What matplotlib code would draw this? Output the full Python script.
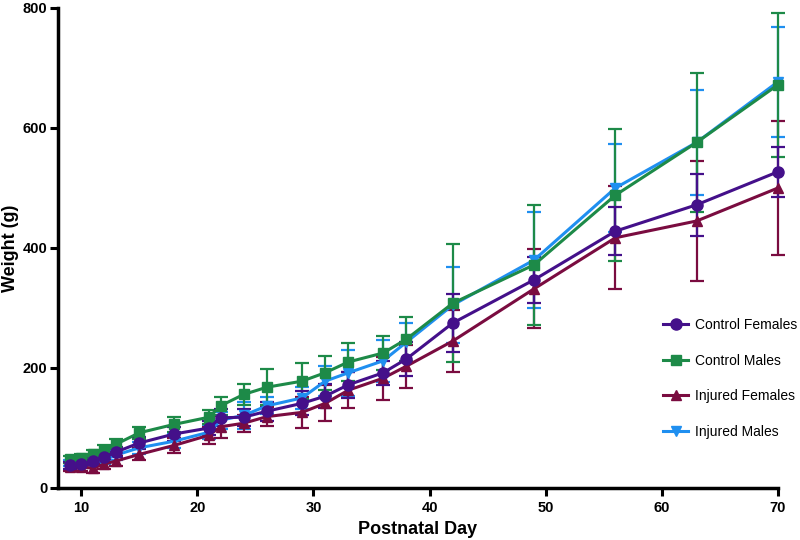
import matplotlib
matplotlib.use("Agg")
import matplotlib.pyplot as plt
from matplotlib.lines import Line2D

# data
days = [9, 10, 11, 12, 13, 15, 18, 21, 22, 24, 26, 29, 31, 33, 36, 38, 42, 49, 56, 63, 70]

ctrl_f = [38, 40, 45, 52, 60, 75, 90, 100, 117, 118, 128, 141, 153, 172, 192, 215, 275, 347, 428, 472, 527]
ctrl_m = [48, 50, 57, 63, 73, 92, 106, 118, 137, 156, 168, 178, 192, 210, 225, 248, 308, 372, 488, 576, 672]
inj_f = [35, 35, 33, 40, 45, 56, 71, 88, 102, 108, 119, 126, 141, 163, 183, 203, 245, 332, 417, 445, 500]
inj_m = [42, 43, 42, 47, 55, 67, 78, 93, 113, 121, 137, 150, 178, 192, 212, 243, 305, 380, 500, 576, 677]

ctrl_f_err = [6, 6, 7, 8, 8, 10, 12, 12, 14, 14, 16, 20, 20, 22, 20, 28, 48, 38, 40, 52, 42]
ctrl_m_err = [6, 6, 7, 8, 8, 10, 12, 12, 15, 17, 30, 30, 28, 32, 28, 37, 98, 100, 110, 116, 120]
inj_f_err = [6, 6, 8, 8, 8, 10, 12, 14, 18, 14, 16, 26, 30, 30, 36, 36, 52, 66, 86, 100, 112]
inj_m_err = [5, 5, 6, 7, 8, 10, 12, 12, 14, 23, 14, 18, 25, 38, 35, 32, 63, 80, 73, 88, 92]

x_ticks = [10, 20, 30, 40, 50, 60, 70]
y_ticks = [0, 200, 400, 600, 800]

plt.rcParams['font.family'] = ['Liberation Sans', 'DejaVu Sans']

fig = plt.figure(figsize=(8, 5.4), dpi=100)
ax = fig.add_axes([0.0725, 0.0963, 0.90, 0.889])

# (label, values, errors, colour, marker, marker size)
series = [
    ("Injured Males", inj_m, inj_m_err, "#1f8ff0", "v", 7),
    ("Injured Females", inj_f, inj_f_err, "#7a0c40", "^", 7),
    ("Control Males", ctrl_m, ctrl_m_err, "#1d8a48", "s", 7),
    ("Control Females", ctrl_f, ctrl_f_err, "#44108a", "o", 8),
]

handles = {}
for label, vals, errs, col, mk, ms in series:
    ax.errorbar(days, vals, yerr=errs, color=col, marker=mk, markersize=ms,
                linewidth=2.2, elinewidth=1.6, capsize=5, capthick=1.6,
                clip_on=False)
    handles[label] = Line2D([], [], color=col, marker=mk, markersize=ms, linewidth=2.2)

order = ["Control Females", "Control Males", "Injured Females", "Injured Males"]
ax.legend([handles[k] for k in order], order, loc="center left",
          bbox_to_anchor=(0.823, 0.228), frameon=False, fontsize=10,
          labelspacing=1.55, handlelength=1.8, handletextpad=0.5)

ax.set_xlim(8, 70)
ax.set_ylim(0, 800)
ax.set_xticks(x_ticks)
ax.set_yticks(y_ticks)

for side in ["top", "right"]:
    ax.spines[side].set_visible(False)
for side in ["left", "bottom"]:
    ax.spines[side].set_linewidth(2.5)

ax.tick_params(axis="both", direction="out", length=6, width=2.2, labelsize=10.5)
ax.tick_params(axis="y", pad=1.5)
ax.tick_params(axis="x", pad=3.5)
for lab in ax.get_xticklabels() + ax.get_yticklabels():
    lab.set_fontweight("bold")

ax.set_xlabel("Postnatal Day", fontsize=13, fontweight="bold")
ax.set_ylabel("Weight (g)", fontsize=13, fontweight="bold")
ax.xaxis.set_label_coords(0.5, -0.068)
ax.yaxis.set_label_coords(-0.054, 0.5)

fig.savefig("out.png", dpi=100)
